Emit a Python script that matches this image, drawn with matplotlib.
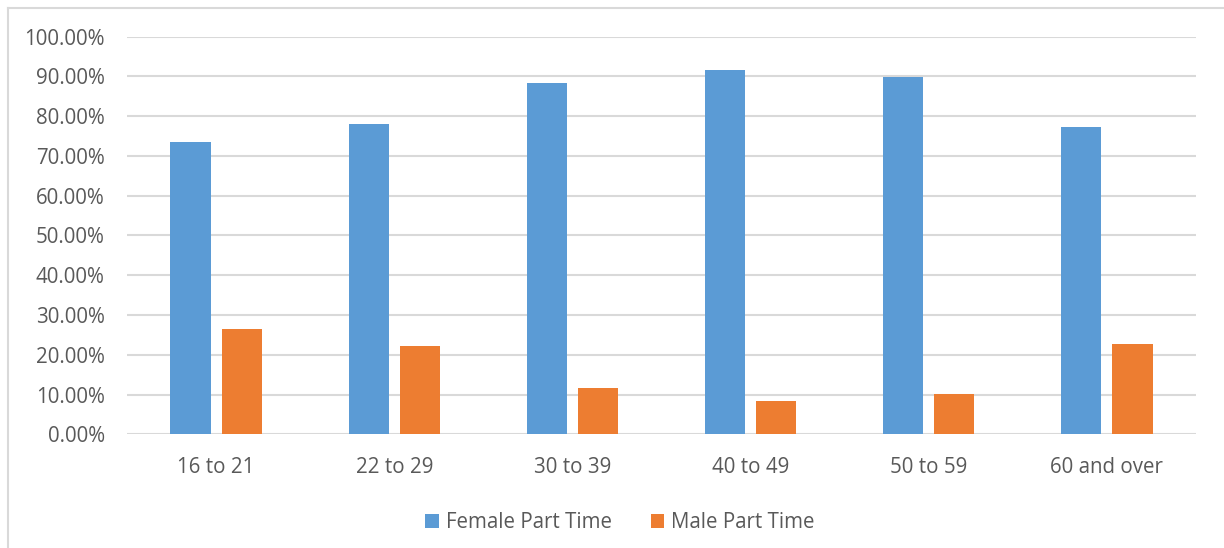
import matplotlib.pyplot as plt
import numpy as np
from matplotlib.lines import Line2D
from matplotlib.ticker import PercentFormatter

# data
age_groups = ['16 to 21', '22 to 29', '30 to 39', '40 to 49', '50 to 59', '60 and over']
female_pt = [0.734, 0.780, 0.883, 0.916, 0.899, 0.773]
male_pt = [0.266, 0.221, 0.117, 0.084, 0.101, 0.227]

blue = '#5B9BD5'
orange = '#ED7D31'
txt = '#595959'
grid = '#D9D9D9'

plt.rcParams['font.family'] = ['Open Sans', 'DejaVu Sans']

fig = plt.figure(figsize=(12.24, 5.48), dpi=100)
ax = fig.add_axes([127 / 1224, 1 - 434.3 / 548, (1196 - 127) / 1224, (434.3 - 36.6) / 548])

x = np.arange(len(age_groups))
w = 0.225
gap = 0.062
ax.bar(x - (w + gap) / 2, female_pt, w, color=blue, label='Female Part Time', zorder=3)
ax.bar(x + (w + gap) / 2, male_pt, w, color=orange, label='Male Part Time', zorder=3)

ax.set_xlim(-0.5, len(age_groups) - 0.5)
ax.set_ylim(0, 1)
ax.set_yticks(np.arange(0, 1.01, 0.1))
ax.yaxis.set_major_formatter(PercentFormatter(1.0, decimals=2))
ax.set_xticks(x)
ax.set_xticklabels(age_groups)
ax.grid(axis='y', color=grid, linewidth=1.5, zorder=0)
ax.tick_params(axis='both', length=0, labelsize=14.8, labelcolor=txt)
ax.tick_params(axis='y', pad=16)
ax.tick_params(axis='x', pad=16.5)
for s in ax.spines.values():
    s.set_visible(False)

leg = fig.legend(loc='center', bbox_to_anchor=(620 / 1224, 1 - 523 / 548), ncol=2,
                 frameon=False, fontsize=14.8, handlelength=0.65, handleheight=0.65,
                 columnspacing=1.9, handletextpad=0.35)
for t in leg.get_texts():
    t.set_color(txt)

# outer chart border
fig.add_artist(Line2D([7.5 / 1224, 7.5 / 1224], [0, 1 - 8 / 548], transform=fig.transFigure,
                      color=grid, linewidth=1.5))
fig.add_artist(Line2D([7.5 / 1224, 1], [1 - 8 / 548, 1 - 8 / 548], transform=fig.transFigure,
                      color=grid, linewidth=1.5))

fig.savefig('out.png', dpi=100)
